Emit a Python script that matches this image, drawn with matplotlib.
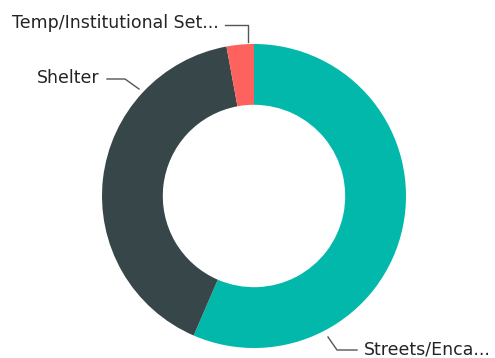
import matplotlib
matplotlib.use("Agg")
import matplotlib.pyplot as plt

categories = ["Streets/Encampments", "Shelter", "Temp/Institutional Settings"]
values = [56.5, 40.6, 2.9]
labels_shown = ["Streets/Enca...", "Shelter", "Temp/Institutional Set..."]
colors = ["#01B8AA", "#374649", "#FD625E"]

plt.rcParams['font.family'] = ['DejaVu Sans']

W, H = 495, 358
fig = plt.figure(figsize=(W/100, H/100), dpi=100)
cx, cy, R = 254, 196, 152
ax = fig.add_axes([(cx-R)/W, (H-cy-R)/H, 2*R/W, 2*R/H])
ax.pie(values, colors=colors, startangle=90, counterclock=False,
       radius=1, wedgeprops=dict(width=0.4, edgecolor='none'))
ax.set_xlim(-1, 1); ax.set_ylim(-1, 1)
ax.set_aspect('equal')
ax.axis('off')

def d(px, py):
    return ((px-cx)/R, (cy-py)/R)

lc = "#555555"
tc = "#252423"
fs = 12.5

def leader(pts):
    xs, ys = zip(*[d(*p) for p in pts])
    ax.plot(xs, ys, color=lc, lw=1.0, clip_on=False)

# Temp
leader([(225, 25), (248, 25), (248, 42)])
x, y = d(219, 23)
ax.text(x, y, labels_shown[2], ha='right', va='center', fontsize=fs, color=tc, clip_on=False)
# Shelter
leader([(107, 79), (125, 79), (139, 89)])
x, y = d(100, 78)
ax.text(x, y, labels_shown[1], ha='right', va='center', fontsize=fs, color=tc, clip_on=False)
# Streets
leader([(328, 337), (337, 350), (357, 350)])
x, y = d(364, 349)
ax.text(x, y, labels_shown[0], ha='left', va='center', fontsize=fs, color=tc, clip_on=False)

fig.savefig("out.png", dpi=100)
